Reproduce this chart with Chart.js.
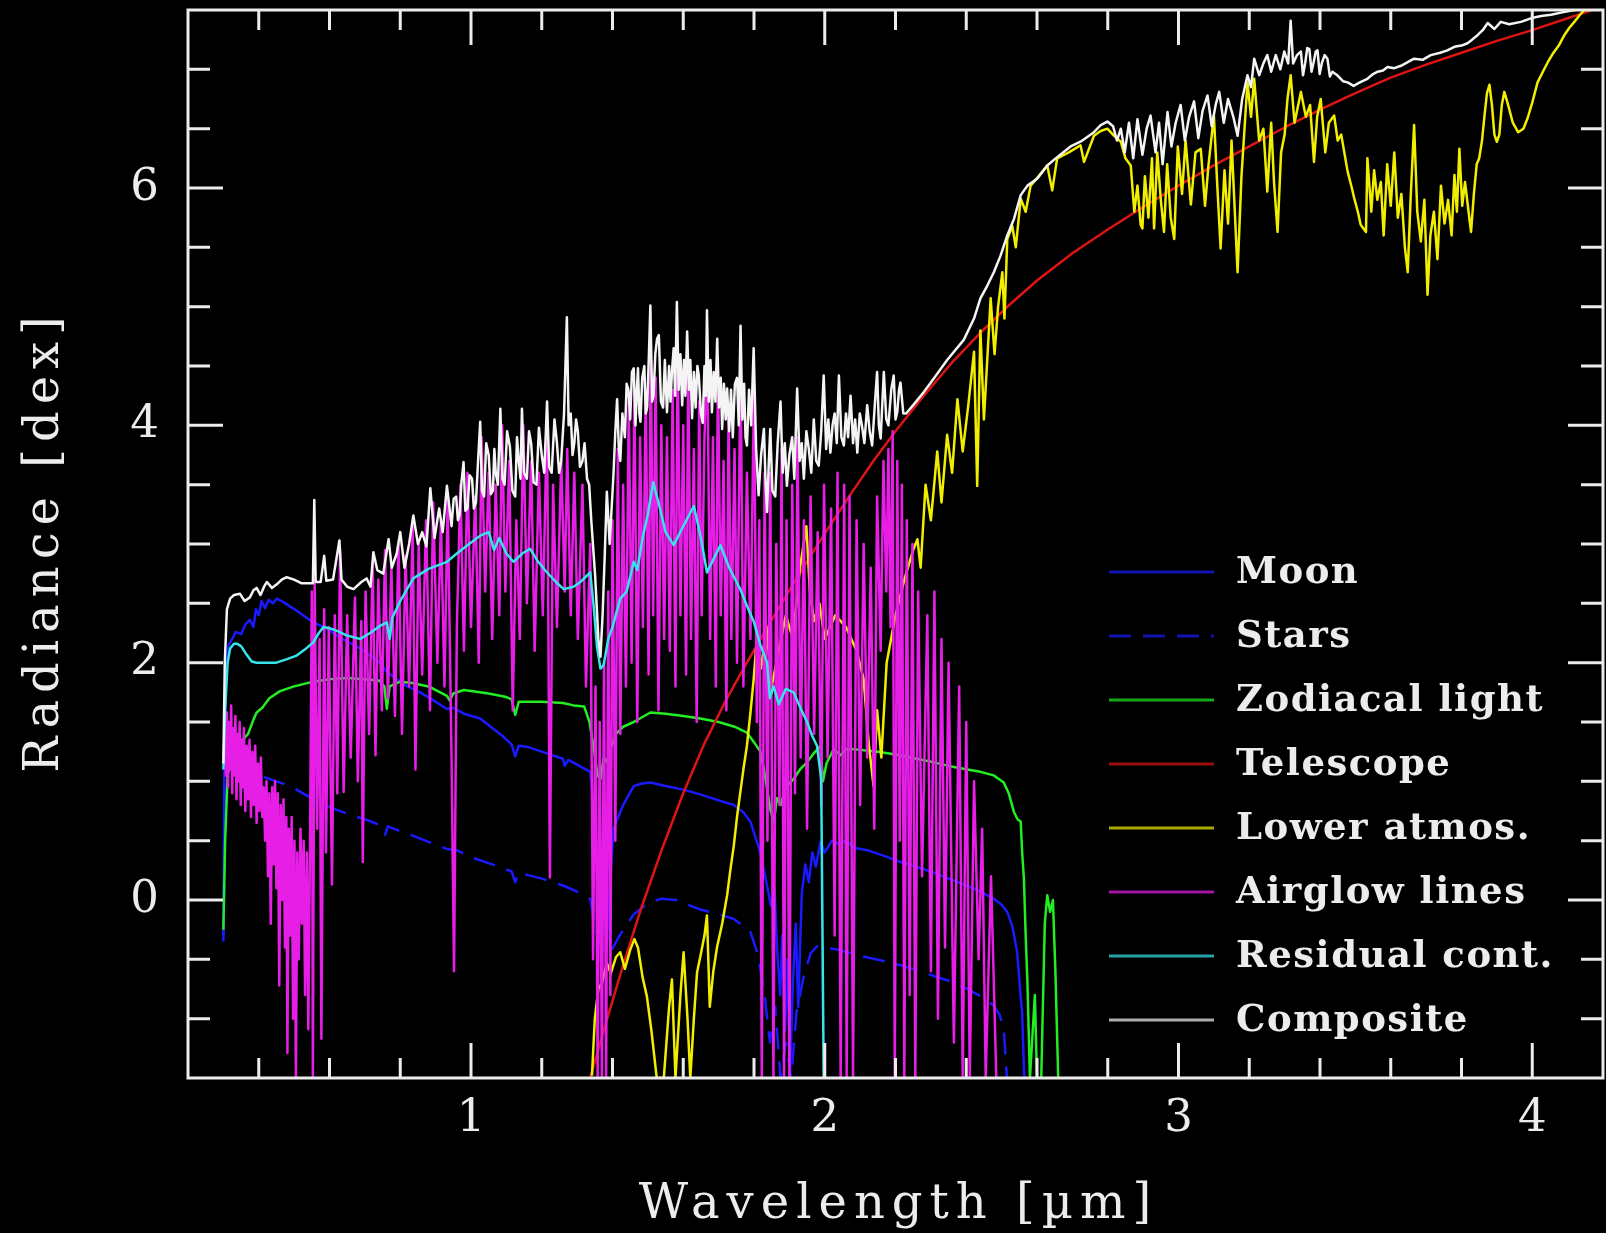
<!DOCTYPE html>
<html>
<head>
<meta charset="utf-8">
<title>Sky radiance components</title>
<script src="https://cdn.jsdelivr.net/npm/chart.js@4.4.1/dist/chart.umd.min.js"></script>
<style>
  html, body { margin: 0; padding: 0; background: #000; }
  canvas { display: block; }
</style>
</head>
<body>
<canvas id="sky" width="1606" height="1233"></canvas>
<script>
// wavelength [um], radiance [dex] pairs for each component
const moon = [
  [0.300,-0.30],[0.303,1.20],[0.308,1.95],[0.315,2.15],[0.325,2.20],[0.335,2.26],[0.350,2.24],[0.362,2.32],[0.375,2.36],[0.385,2.30],
  [0.392,2.45],[0.400,2.40],[0.408,2.52],[0.418,2.46],[0.428,2.53],[0.440,2.50],[0.451,2.54],[0.470,2.51],[0.490,2.47],[0.507,2.44],
  [0.530,2.39],[0.554,2.34],[0.590,2.29],[0.620,2.23],[0.655,2.17],[0.687,2.12],[0.715,2.06],[0.743,2.00],[0.760,1.93],[0.790,1.86],
  [0.820,1.80],[0.856,1.75],[0.895,1.68],[0.932,1.61],[0.950,1.62],[0.980,1.57],[1.026,1.53],[1.060,1.45],[1.090,1.38],[1.115,1.31],
  [1.125,1.21],[1.135,1.30],[1.160,1.29],[1.200,1.25],[1.230,1.22],[1.260,1.19],[1.265,1.13],[1.275,1.18],[1.300,1.14],[1.337,1.08],
  [1.348,0.75],[1.360,0.25],[1.372,-0.10],[1.384,-0.38],[1.392,0.10],[1.403,0.60],[1.430,0.80],[1.460,0.96],[1.480,0.98],[1.507,0.99],
  [1.550,0.96],[1.600,0.93],[1.648,0.89],[1.700,0.84],[1.743,0.80],[1.770,0.74],[1.790,0.66],[1.805,0.52],[1.818,0.40],[1.835,0.15],
  [1.848,-0.05],[1.858,0.10],[1.866,-0.45],[1.874,-0.80],[1.880,-0.30],[1.888,-1.10],[1.895,-0.50],[1.902,-1.45],[1.910,-0.70],[1.918,-0.20],
  [1.925,-0.90],[1.935,0.05],[1.945,0.30],[1.955,0.15],[1.965,0.40],[1.975,0.28],[1.988,0.49],[2.000,0.40],[2.020,0.50],[2.040,0.47],
  [2.060,0.50],[2.082,0.44],[2.120,0.42],[2.170,0.37],[2.214,0.32],[2.260,0.28],[2.308,0.23],[2.350,0.18],[2.403,0.12],[2.440,0.07],
  [2.478,0.01],[2.500,-0.04],[2.516,-0.10],[2.530,-0.22],[2.544,-0.44],[2.552,-0.75],[2.558,-0.95],[2.564,-1.50]
];

const stars = [
  [0.300,-0.35],[0.304,0.60],[0.310,0.98],[0.320,1.05],[0.340,1.07],[0.360,1.04],[0.394,1.08],[0.420,1.03],[0.450,1.00],[0.489,0.96],
  [0.530,0.89],[0.573,0.82],[0.620,0.76],[0.668,0.71],[0.710,0.67],[0.743,0.63],[0.757,0.55],[0.765,0.62],[0.800,0.58],[0.837,0.54],
  [0.880,0.49],[0.932,0.43],[0.960,0.42],[1.000,0.36],[1.060,0.30],[1.115,0.24],[1.125,0.15],[1.135,0.23],[1.200,0.18],[1.262,0.12],
  [1.300,0.07],[1.337,0.01],[1.350,-0.20],[1.362,-0.35],[1.380,-0.46],[1.394,-0.44],[1.420,-0.30],[1.460,-0.12],[1.500,-0.03],[1.535,0.01],
  [1.580,0.00],[1.648,-0.08],[1.700,-0.12],[1.743,-0.16],[1.770,-0.22],[1.790,-0.27],[1.810,-0.45],[1.830,-0.80],[1.845,-1.20],[1.860,-0.90],
  [1.875,-1.50],[1.890,-1.20],[1.905,-1.50],[1.920,-0.95],[1.940,-0.65],[1.960,-0.45],[1.978,-0.39],[2.000,-0.40],[2.040,-0.42],[2.100,-0.47],
  [2.160,-0.51],[2.214,-0.55],[2.260,-0.59],[2.308,-0.64],[2.360,-0.69],[2.403,-0.75],[2.440,-0.81],[2.478,-0.89],[2.495,-0.97],[2.506,-1.09],
  [2.515,-1.50]
];

const zodiacal = [
  [0.300,-0.25],[0.305,0.50],[0.312,1.05],[0.325,1.25],[0.345,1.32],[0.370,1.40],[0.385,1.52],[0.394,1.58],[0.410,1.62],[0.430,1.70],
  [0.460,1.76],[0.500,1.80],[0.554,1.84],[0.600,1.86],[0.650,1.87],[0.700,1.86],[0.740,1.85],[0.755,1.80],[0.762,1.61],[0.770,1.80],
  [0.800,1.84],[0.830,1.83],[0.880,1.80],[0.932,1.72],[0.940,1.68],[0.950,1.74],[0.980,1.77],[1.050,1.74],[1.100,1.71],[1.115,1.69],
  [1.125,1.56],[1.135,1.67],[1.200,1.67],[1.260,1.66],[1.290,1.64],[1.320,1.63],[1.335,1.50],[1.346,1.30],[1.358,1.05],[1.366,1.02],
  [1.375,1.20],[1.384,1.16],[1.394,1.27],[1.410,1.40],[1.430,1.46],[1.460,1.50],[1.507,1.58],[1.550,1.57],[1.600,1.55],[1.648,1.53],
  [1.700,1.50],[1.745,1.46],[1.780,1.41],[1.800,1.33],[1.818,1.25],[1.828,1.10],[1.837,0.94],[1.847,0.75],[1.856,0.66],[1.865,0.86],
  [1.875,0.80],[1.890,0.95],[1.912,1.02],[1.930,1.10],[1.950,1.16],[1.970,1.24],[1.988,1.30],[1.995,1.00],[2.005,1.15],[2.025,1.27],
  [2.045,1.22],[2.060,1.27],[2.082,1.27],[2.150,1.25],[2.214,1.22],[2.260,1.19],[2.308,1.16],[2.350,1.13],[2.403,1.10],[2.440,1.08],
  [2.478,1.05],[2.506,0.99],[2.520,0.90],[2.535,0.74],[2.545,0.68],[2.554,0.66],[2.558,0.40],[2.563,0.18],[2.568,-0.30],[2.573,-0.70],
  [2.580,-1.50],[2.588,-1.10],[2.594,-0.80],[2.600,-1.50],[2.612,-1.50],[2.622,-0.20],[2.629,0.04],[2.637,-0.10],[2.645,0.00],[2.652,-0.60],
  [2.660,-1.50]
];

const telescope = [
  [1.337,-1.50],[1.380,-1.05],[1.430,-0.55],[1.480,-0.08],[1.540,0.43],[1.600,0.90],[1.660,1.32],[1.720,1.68],[1.780,2.00],[1.840,2.31],
  [1.900,2.61],[1.960,2.90],[2.020,3.18],[2.080,3.45],[2.140,3.71],[2.200,3.95],[2.280,4.25],[2.360,4.53],[2.440,4.78],[2.520,5.01],
  [2.600,5.22],[2.700,5.45],[2.800,5.65],[2.900,5.84],[3.000,6.02],[3.100,6.19],[3.200,6.35],[3.300,6.51],[3.400,6.66],[3.500,6.80],
  [3.600,6.93],[3.700,7.04],[3.800,7.14],[3.900,7.24],[4.000,7.33],[4.100,7.43],[4.200,7.53]
];

const lowerAtmos = [
  [1.342,-1.48],[1.350,-1.00],[1.360,-0.75],[1.370,-0.70],[1.384,-0.53],[1.395,-0.62],[1.410,-0.48],[1.422,-0.44],[1.435,-0.58],[1.450,-0.42],
  [1.462,-0.33],[1.472,-0.40],[1.485,-0.65],[1.497,-0.81],[1.510,-1.10],[1.525,-1.50],[1.545,-1.50],[1.560,-0.90],[1.568,-0.67],[1.578,-1.50],
  [1.592,-0.80],[1.601,-0.44],[1.612,-1.00],[1.620,-1.50],[1.630,-1.00],[1.639,-0.61],[1.650,-0.45],[1.660,-0.30],[1.667,-0.13],[1.675,-0.90],
  [1.685,-0.60],[1.696,-0.39],[1.710,-0.20],[1.724,0.04],[1.733,0.25],[1.743,0.46],[1.752,0.70],[1.760,0.88],[1.770,1.10],[1.780,1.30],
  [1.790,1.58],[1.799,1.86],[1.808,2.20],[1.820,1.95],[1.835,2.30],[1.850,1.80],[1.870,2.10],[1.890,2.40],[1.910,2.20],[1.930,2.80],
  [1.948,3.15],[1.958,2.60],[1.970,2.35],[1.985,2.50],[2.000,2.20],[2.030,2.40],[2.060,2.30],[2.090,2.10],[2.110,1.86],[2.125,1.30],
  [2.138,0.96],[2.148,1.60],[2.160,1.20],[2.175,2.00],[2.200,2.40],[2.225,2.70],[2.250,2.95],[2.262,3.04],[2.271,2.80],[2.285,3.50],
  [2.300,3.20],[2.318,3.78],[2.330,3.35],[2.346,3.92],[2.360,3.60],[2.375,4.22],[2.390,3.78],[2.405,4.15],[2.422,4.62],[2.431,3.49],
  [2.440,4.80],[2.450,4.05],[2.469,5.07],[2.480,4.60],[2.490,5.00],[2.502,5.29],[2.508,4.90],[2.516,5.57],[2.530,5.68],[2.540,5.50],
  [2.554,5.91],[2.568,5.80],[2.582,6.02],[2.605,6.10],[2.629,6.19],[2.643,5.98],[2.657,6.25],[2.690,6.30],[2.723,6.36],[2.733,6.22],
  [2.761,6.44],[2.780,6.48],[2.799,6.50],[2.818,6.44],[2.837,6.39],[2.850,6.25],[2.865,6.19],[2.875,5.80],[2.884,6.02],[2.893,5.69],
  [2.898,5.66],[2.905,6.10],[2.915,5.75],[2.925,6.25],[2.931,5.66],[2.940,6.30],[2.950,5.90],[2.959,5.63],[2.968,6.20],[2.978,5.75],
  [2.988,5.57],[2.998,6.35],[3.010,5.95],[3.020,6.40],[3.035,5.86],[3.048,6.30],[3.063,6.33],[3.075,5.85],[3.085,6.20],[3.100,6.61],
  [3.110,6.00],[3.119,5.49],[3.130,6.15],[3.140,5.70],[3.150,6.40],[3.167,5.29],[3.178,6.10],[3.195,6.89],[3.205,6.60],[3.214,6.92],
  [3.228,6.40],[3.240,6.50],[3.251,5.97],[3.262,6.55],[3.270,6.05],[3.280,5.63],[3.290,6.30],[3.300,6.45],[3.308,6.75],[3.317,6.95],
  [3.328,6.55],[3.346,6.81],[3.360,6.60],[3.372,6.70],[3.383,6.22],[3.392,6.60],[3.402,6.75],[3.415,6.30],[3.425,6.55],[3.440,6.61],
  [3.450,6.40],[3.460,6.45],[3.478,6.14],[3.490,6.00],[3.497,5.91],[3.507,5.80],[3.515,5.69],[3.530,5.63],[3.534,6.25],[3.545,5.80],
  [3.553,6.15],[3.562,5.90],[3.572,6.05],[3.580,5.60],[3.590,6.20],[3.600,5.85],[3.610,6.30],[3.620,5.75],[3.630,5.95],[3.640,5.50],
  [3.648,5.29],[3.656,5.90],[3.666,6.53],[3.675,5.80],[3.685,5.55],[3.695,5.90],[3.704,5.10],[3.712,5.60],[3.722,5.80],[3.732,5.40],
  [3.742,6.02],[3.752,5.70],[3.762,5.90],[3.772,5.60],[3.780,6.11],[3.787,5.80],[3.794,6.33],[3.802,5.85],[3.810,6.05],[3.820,5.80],
  [3.827,5.63],[3.835,5.95],[3.843,6.20],[3.850,6.25],[3.858,6.40],[3.865,6.61],[3.872,6.80],[3.879,6.87],[3.886,6.70],[3.893,6.45],
  [3.900,6.39],[3.907,6.45],[3.914,6.70],[3.921,6.81],[3.930,6.72],[3.945,6.55],[3.960,6.47],[3.975,6.50],[3.987,6.59],[4.000,6.72],
  [4.015,6.89],[4.030,6.98],[4.044,7.06],[4.060,7.14],[4.075,7.20],[4.091,7.29],[4.105,7.35],[4.119,7.40],[4.135,7.46],[4.150,7.51],
  [4.170,7.53]
];

const airglow = [
  [0.300,1.20],[0.304,1.45],[0.307,1.05],[0.310,1.58],[0.313,0.95],[0.316,1.50],[0.319,1.10],[0.322,1.64],[0.325,0.90],[0.328,1.45],
  [0.331,1.05],[0.334,1.55],[0.337,0.85],[0.340,1.40],[0.343,1.00],[0.346,1.50],[0.349,0.80],[0.352,1.35],[0.355,0.95],[0.358,1.45],
  [0.362,0.75],[0.366,1.30],[0.370,0.85],[0.374,1.35],[0.378,0.70],[0.382,1.25],[0.386,0.80],[0.390,1.30],[0.394,0.65],[0.398,1.15],
  [0.402,0.75],[0.406,1.20],[0.410,0.70],[0.414,0.95],[0.418,0.50],[0.422,1.00],[0.426,0.20],[0.430,0.90],[0.434,-0.20],[0.438,0.95],
  [0.442,0.30],[0.446,1.00],[0.450,0.10],[0.454,0.90],[0.458,-0.72],[0.462,0.80],[0.466,0.00],[0.470,0.85],[0.474,-0.40],[0.478,0.70],
  [0.481,-1.29],[0.485,0.60],[0.489,-0.30],[0.493,0.70],[0.497,-1.00],[0.501,0.50],[0.505,-1.50],[0.509,0.40],[0.513,-0.50],[0.518,0.60],
  [0.522,-0.20],[0.527,0.50],[0.531,-0.80],[0.536,0.40],[0.540,-1.09],[0.545,0.50],[0.550,2.60],[0.553,-1.50],[0.558,2.70],[0.565,0.60],
  [0.572,2.20],[0.577,-1.17],[0.585,2.45],[0.590,0.40],[0.598,2.30],[0.607,0.13],[0.615,2.40],[0.622,0.90],[0.630,2.95],[0.640,0.91],
  [0.650,2.40],[0.660,1.20],[0.672,2.55],[0.680,1.00],[0.690,2.35],[0.694,0.32],[0.702,2.60],[0.712,1.40],[0.722,2.85],[0.730,1.22],
  [0.738,2.70],[0.748,1.60],[0.757,2.95],[0.765,1.70],[0.775,2.80],[0.785,1.55],[0.795,3.00],[0.805,1.40],[0.815,2.90],[0.825,1.80],
  [0.835,3.15],[0.843,1.10],[0.852,3.00],[0.862,1.90],[0.873,3.20],[0.884,1.60],[0.893,3.35],[0.905,2.00],[0.915,3.20],[0.925,1.80],
  [0.934,3.40],[0.945,1.20],[0.952,-0.60],[0.960,2.30],[0.970,3.50],[0.980,2.10],[0.990,3.60],[1.000,2.30],[1.012,3.40],[1.022,2.00],
  [1.030,3.90],[1.040,2.60],[1.050,3.60],[1.060,2.20],[1.070,3.50],[1.080,2.40],[1.088,4.00],[1.097,2.60],[1.108,3.70],[1.118,1.60],
  [1.128,3.20],[1.138,2.20],[1.148,4.00],[1.158,2.50],[1.170,3.70],[1.180,2.10],[1.192,3.60],[1.203,2.40],[1.215,4.10],[1.223,0.19],
  [1.232,3.50],[1.243,2.30],[1.255,3.70],[1.265,2.60],[1.272,3.80],[1.282,2.40],[1.292,3.60],[1.302,2.20],[1.315,3.50],[1.325,1.80],
  [1.337,3.00],[1.345,-0.50],[1.352,1.80],[1.358,-1.50],[1.364,1.50],[1.370,-1.50],[1.376,2.00],[1.382,-1.50],[1.388,2.60],[1.394,-0.80],
  [1.400,3.20],[1.408,0.50],[1.415,3.80],[1.422,1.40],[1.430,3.50],[1.438,1.80],[1.446,4.20],[1.454,2.00],[1.462,4.30],[1.470,1.50],
  [1.478,3.90],[1.486,2.30],[1.494,4.30],[1.502,1.90],[1.508,4.70],[1.515,2.40],[1.522,4.40],[1.530,1.60],[1.538,4.00],[1.546,2.20],
  [1.554,3.90],[1.562,2.10],[1.570,4.30],[1.578,1.80],[1.584,4.70],[1.592,2.40],[1.600,4.00],[1.608,1.90],[1.614,4.50],[1.622,2.20],
  [1.630,3.80],[1.638,1.50],[1.645,4.20],[1.652,2.40],[1.660,3.90],[1.668,4.60],[1.676,2.20],[1.684,3.90],[1.692,1.80],[1.698,4.50],
  [1.706,2.40],[1.714,3.70],[1.722,1.60],[1.728,4.10],[1.736,2.20],[1.745,3.80],[1.752,2.00],[1.762,4.50],[1.770,1.80],[1.780,3.60],
  [1.790,2.20],[1.800,4.30],[1.808,1.50],[1.815,3.20],[1.822,-1.50],[1.830,3.60],[1.838,0.50],[1.846,3.60],[1.855,-1.50],[1.863,3.00],
  [1.872,0.80],[1.878,3.80],[1.885,-1.50],[1.892,3.20],[1.900,-1.50],[1.908,3.50],[1.916,0.90],[1.923,3.90],[1.932,1.20],[1.941,3.20],
  [1.950,0.60],[1.960,3.40],[1.970,1.40],[1.980,3.10],[1.990,0.80],[1.998,3.50],[2.008,1.20],[2.018,3.30],[2.028,-0.30],[2.036,3.60],
  [2.045,-1.50],[2.055,3.50],[2.062,-1.50],[2.070,3.40],[2.080,-1.50],[2.090,3.20],[2.100,0.80],[2.110,3.00],[2.120,1.20],[2.130,2.80],
  [2.140,0.60],[2.148,3.40],[2.158,2.10],[2.166,3.70],[2.174,2.60],[2.180,3.80],[2.186,2.30],[2.192,3.95],[2.198,-1.50],[2.205,3.70],
  [2.212,0.50],[2.218,3.50],[2.225,-1.50],[2.232,3.20],[2.240,-0.80],[2.248,3.00],[2.256,-1.50],[2.264,2.60],[2.275,0.20],[2.290,2.40],
  [2.300,-0.60],[2.310,2.60],[2.320,-1.00],[2.330,2.20],[2.340,-0.40],[2.350,2.00],[2.365,-1.20],[2.380,1.80],[2.390,-1.50],[2.400,1.50],
  [2.410,-1.50],[2.422,1.00],[2.435,-0.50],[2.445,0.60],[2.455,-1.50],[2.470,0.20],[2.485,-1.50]
];

const residual = [
  [0.300,1.10],[0.305,1.60],[0.312,2.00],[0.319,2.12],[0.330,2.16],[0.338,2.16],[0.350,2.14],[0.365,2.07],[0.380,2.01],[0.394,2.00],
  [0.420,2.00],[0.450,2.00],[0.480,2.03],[0.507,2.06],[0.530,2.11],[0.554,2.17],[0.570,2.25],[0.583,2.30],[0.600,2.29],[0.620,2.27],
  [0.648,2.23],[0.687,2.20],[0.715,2.25],[0.743,2.31],[0.762,2.34],[0.770,2.20],[0.778,2.38],[0.800,2.52],[0.837,2.71],[0.880,2.79],
  [0.932,2.85],[0.960,2.92],[0.990,2.99],[1.026,3.07],[1.050,3.10],[1.065,2.95],[1.080,3.05],[1.100,2.92],[1.120,2.85],[1.145,2.92],
  [1.167,2.96],[1.190,2.85],[1.215,2.76],[1.240,2.68],[1.262,2.62],[1.290,2.64],[1.309,2.68],[1.337,2.76],[1.346,2.50],[1.356,2.14],
  [1.366,1.95],[1.375,1.98],[1.388,2.20],[1.400,2.30],[1.422,2.54],[1.440,2.60],[1.460,2.85],[1.470,2.78],[1.485,3.05],[1.500,3.25],
  [1.515,3.52],[1.530,3.35],[1.550,3.10],[1.573,2.99],[1.600,3.15],[1.630,3.32],[1.650,3.05],[1.667,2.76],[1.690,2.90],[1.705,2.99],
  [1.730,2.80],[1.761,2.62],[1.780,2.48],[1.800,2.34],[1.818,2.15],[1.837,2.00],[1.845,1.70],[1.855,1.80],[1.870,1.65],[1.890,1.78],
  [1.912,1.75],[1.931,1.62],[1.950,1.50],[1.965,1.38],[1.978,1.30],[1.990,1.02],[1.997,-1.50]
];

const composite = [
  [0.300,1.15],[0.304,2.00],[0.310,2.45],[0.319,2.54],[0.330,2.57],[0.347,2.58],[0.360,2.52],[0.375,2.55],[0.385,2.61],[0.394,2.63],
  [0.405,2.57],[0.415,2.64],[0.423,2.68],[0.437,2.63],[0.451,2.66],[0.465,2.70],[0.479,2.72],[0.500,2.70],[0.520,2.67],[0.540,2.67],
  [0.553,2.67],[0.557,3.37],[0.561,2.68],[0.575,2.68],[0.585,2.90],[0.591,2.69],[0.610,2.70],[0.628,3.03],[0.634,2.70],[0.650,2.64],
  [0.668,2.62],[0.690,2.68],[0.705,2.71],[0.716,2.64],[0.724,2.93],[0.735,2.78],[0.752,2.75],[0.767,3.04],[0.776,2.80],[0.790,2.92],
  [0.800,3.10],[0.812,2.80],[0.825,3.00],[0.837,3.24],[0.850,3.00],[0.862,3.10],[0.874,2.98],[0.885,3.47],[0.897,3.05],[0.910,3.30],
  [0.920,3.10],[0.932,3.49],[0.945,3.15],[0.951,3.38],[0.958,3.40],[0.963,3.20],[0.968,3.25],[0.973,3.52],[0.979,3.69],[0.984,3.28],
  [0.990,3.30],[0.996,3.58],[1.003,3.55],[1.008,3.30],[1.014,3.35],[1.020,3.70],[1.026,4.03],[1.031,3.45],[1.037,3.40],[1.043,3.85],
  [1.050,3.75],[1.056,3.42],[1.062,3.45],[1.066,3.80],[1.070,3.60],[1.076,3.50],[1.083,4.14],[1.089,3.55],[1.095,3.50],[1.102,3.95],
  [1.110,3.82],[1.117,3.45],[1.125,3.40],[1.130,3.90],[1.135,3.70],[1.140,3.55],[1.144,4.14],[1.150,3.60],[1.158,3.55],[1.164,3.95],
  [1.170,3.85],[1.177,3.52],[1.185,3.50],[1.192,3.98],[1.200,3.75],[1.207,3.60],[1.215,4.20],[1.221,3.65],[1.228,3.60],[1.236,4.05],
  [1.243,3.85],[1.249,3.60],[1.255,3.70],[1.263,4.10],[1.271,4.91],[1.276,4.00],[1.282,4.10],[1.287,3.75],[1.292,3.85],[1.297,4.05],
  [1.302,3.95],[1.308,3.65],[1.315,3.70],[1.321,3.85],[1.328,3.55],[1.334,3.50],[1.340,3.20],[1.351,2.73],[1.360,2.20],[1.366,2.05],
  [1.372,2.40],[1.378,2.90],[1.384,3.44],[1.392,3.00],[1.403,3.60],[1.408,3.95],[1.413,4.22],[1.418,3.80],[1.422,3.70],[1.428,4.10],
  [1.435,3.90],[1.440,4.35],[1.445,4.30],[1.450,4.05],[1.455,4.45],[1.460,4.48],[1.465,4.00],[1.469,4.30],[1.472,4.48],[1.476,4.10],
  [1.479,4.03],[1.484,4.40],[1.490,4.50],[1.494,4.10],[1.498,4.15],[1.503,4.60],[1.507,5.01],[1.512,4.20],[1.516,4.25],[1.521,4.60],
  [1.526,4.73],[1.531,4.76],[1.537,4.20],[1.543,4.15],[1.548,4.55],[1.554,4.11],[1.560,4.50],[1.564,4.20],[1.568,4.45],[1.573,4.65],
  [1.577,4.25],[1.582,5.04],[1.587,4.30],[1.592,4.60],[1.597,4.17],[1.602,4.55],[1.606,4.25],[1.611,4.79],[1.616,4.30],[1.620,4.55],
  [1.625,4.06],[1.630,4.45],[1.635,4.15],[1.640,4.50],[1.644,4.42],[1.650,4.10],[1.655,4.02],[1.660,4.50],[1.664,4.25],[1.667,4.97],
  [1.672,4.20],[1.677,4.55],[1.681,4.11],[1.686,4.45],[1.691,4.20],[1.696,4.73],[1.701,4.15],[1.706,4.40],[1.710,3.97],[1.715,4.35],
  [1.720,4.05],[1.724,4.31],[1.730,3.95],[1.735,4.30],[1.740,3.90],[1.746,4.35],[1.752,4.40],[1.757,4.00],[1.762,4.84],[1.767,4.05],
  [1.772,4.35],[1.776,3.90],[1.780,3.83],[1.786,4.30],[1.792,4.00],[1.799,4.65],[1.806,3.80],[1.813,3.41],[1.820,3.75],[1.828,3.97],
  [1.833,3.50],[1.837,3.27],[1.842,3.70],[1.846,3.97],[1.852,3.45],[1.860,3.40],[1.867,3.85],[1.875,4.20],[1.881,3.60],[1.887,3.85],
  [1.893,3.49],[1.900,3.75],[1.908,3.90],[1.914,3.55],[1.922,4.31],[1.929,3.70],[1.935,3.85],[1.941,3.55],[1.948,3.95],[1.955,3.80],
  [1.962,3.60],[1.969,4.05],[1.976,3.70],[1.983,3.66],[1.990,3.95],[1.997,4.42],[2.004,3.80],[2.010,4.05],[2.016,3.77],[2.022,4.00],
  [2.028,4.10],[2.034,3.85],[2.040,4.42],[2.047,3.90],[2.054,3.83],[2.060,4.10],[2.066,3.90],[2.073,4.25],[2.080,3.85],[2.086,4.05],
  [2.092,3.77],[2.099,4.10],[2.105,4.00],[2.112,3.85],[2.120,4.17],[2.127,3.95],[2.134,3.83],[2.141,4.15],[2.148,4.45],[2.153,4.00],
  [2.158,3.89],[2.163,4.20],[2.167,4.45],[2.174,4.05],[2.180,4.00],[2.188,4.30],[2.195,4.42],[2.200,4.05],[2.205,4.11],[2.210,4.30],
  [2.214,4.36],[2.222,4.10],[2.230,4.10],[2.250,4.17],[2.280,4.28],[2.300,4.36],[2.346,4.55],[2.393,4.72],[2.422,4.90],[2.440,5.07],
  [2.460,5.18],[2.478,5.29],[2.497,5.43],[2.516,5.60],[2.535,5.74],[2.554,5.94],[2.573,6.02],[2.601,6.08],[2.629,6.19],[2.657,6.26],
  [2.695,6.35],[2.723,6.39],[2.761,6.47],[2.780,6.53],[2.799,6.56],[2.815,6.52],[2.826,6.40],[2.837,6.50],[2.848,6.30],[2.860,6.55],
  [2.872,6.25],[2.884,6.58],[2.898,6.28],[2.910,6.50],[2.921,6.61],[2.935,6.30],[2.945,6.55],[2.955,6.20],[2.969,6.64],[2.980,6.35],
  [2.992,6.55],[3.006,6.70],[3.018,6.40],[3.030,6.60],[3.044,6.73],[3.056,6.42],[3.068,6.65],[3.082,6.78],[3.094,6.52],[3.105,6.70],
  [3.115,6.81],[3.128,6.55],[3.140,6.75],[3.155,6.60],[3.167,6.44],[3.180,6.75],[3.195,6.95],[3.205,6.85],[3.214,7.09],[3.228,6.95],
  [3.240,7.05],[3.251,7.12],[3.262,6.98],[3.275,7.12],[3.288,7.00],[3.299,7.15],[3.310,7.05],[3.317,7.41],[3.324,7.05],[3.335,7.12],
  [3.346,7.15],[3.352,6.95],[3.358,7.05],[3.364,7.18],[3.370,7.17],[3.376,6.98],[3.382,7.06],[3.388,7.15],[3.393,7.16],[3.399,6.96],
  [3.405,7.05],[3.413,7.12],[3.421,7.09],[3.428,6.94],[3.435,6.98],[3.449,6.95],[3.465,6.90],[3.478,6.89],[3.495,6.86],[3.506,6.88],
  [3.520,6.90],[3.534,6.92],[3.550,6.96],[3.563,6.98],[3.578,6.99],[3.591,7.02],[3.610,7.01],[3.629,7.03],[3.648,7.06],[3.666,7.09],
  [3.690,7.08],[3.713,7.12],[3.740,7.14],[3.760,7.16],[3.780,7.19],[3.800,7.20],[3.817,7.22],[3.830,7.25],[3.846,7.29],[3.860,7.33],
  [3.874,7.39],[3.893,7.34],[3.911,7.40],[3.935,7.38],[3.968,7.40],[3.996,7.43],[4.025,7.45],[4.053,7.46],[4.085,7.48],[4.119,7.50],
  [4.150,7.51],[4.200,7.53]
];

const xMajorTicks = [1, 2, 3, 4];
const yMajorTicks = [0, 2, 4, 6];

const inkColor = '#ececec';
const serif = "'DejaVu Serif', serif";

function series(label, points, color, order, extra) {
  return Object.assign({
    label: label,
    data: points,
    borderColor: color,
    borderWidth: 2.5,
    borderJoinStyle: 'round',
    pointRadius: 0,
    tension: 0,
    order: order
  }, extra || {});
}

// black page, boxed frame with inward ticks on all four sides
const skyFrame = {
  id: 'skyFrame',
  beforeDraw(chart) {
    const ctx = chart.ctx;
    ctx.save();
    ctx.fillStyle = '#000';
    ctx.fillRect(0, 0, chart.width, chart.height);
    ctx.restore();
  },
  afterDatasetsDraw(chart) {
    const { ctx, chartArea: a } = chart;
    const xs = chart.scales.x, ys = chart.scales.y;
    ctx.save();
    ctx.strokeStyle = inkColor;
    ctx.lineWidth = 3;
    ctx.strokeRect(a.left, a.top, a.right - a.left, a.bottom - a.top);
    ctx.beginPath();
    for (let i = 4; i < 42; i += 2) {
      const px = xs.getPixelForValue(i / 10);
      const len = i % 10 === 0 ? 35 : 20;
      ctx.moveTo(px, a.bottom); ctx.lineTo(px, a.bottom - len);
      ctx.moveTo(px, a.top); ctx.lineTo(px, a.top + len);
    }
    for (let i = -2; i < 15; i++) {
      const py = ys.getPixelForValue(i / 2);
      const len = i % 4 === 0 ? 35 : 22;
      ctx.moveTo(a.left, py); ctx.lineTo(a.left + len, py);
      ctx.moveTo(a.right, py); ctx.lineTo(a.right - len, py);
    }
    ctx.stroke();
    ctx.restore();
  }
};

// spaced-out axis titles
const skyTitles = {
  id: 'skyTitles',
  afterDraw(chart) {
    const { ctx, chartArea: a } = chart;
    ctx.save();
    ctx.fillStyle = inkColor;
    ctx.font = '48px ' + serif;
    ctx.letterSpacing = '7px';
    ctx.textAlign = 'center';
    ctx.textBaseline = 'alphabetic';
    ctx.fillText('Wavelength [\u00b5m]', (a.left + a.right) / 2 + 3, 1218);
    ctx.translate(58, (a.top + a.bottom) / 2);
    ctx.rotate(-Math.PI / 2);
    ctx.fillText('Radiance [dex]', 3, 0);
    ctx.restore();
  }
};

// legend block in the lower right of the plot
const skyLegend = {
  id: 'skyLegend',
  afterDraw(chart) {
    const ctx = chart.ctx;
    ctx.save();
    ctx.font = 'bold 37px ' + serif;
    ctx.letterSpacing = '1.5px';
    ctx.textBaseline = 'middle';
    chart.data.datasets.forEach((ds, i) => {
      const y = 572 + i * 64;
      ctx.globalAlpha = 0.7;
      ctx.strokeStyle = ds.borderColor;
      ctx.lineWidth = 3;
      ctx.setLineDash(ds.borderDash || []);
      ctx.beginPath();
      ctx.moveTo(1109, y);
      ctx.lineTo(1214, y);
      ctx.stroke();
      ctx.globalAlpha = 1;
      ctx.setLineDash([]);
      ctx.fillStyle = inkColor;
      ctx.fillText(ds.label, 1236, y + 1);
    });
    ctx.restore();
  }
};

new Chart(document.getElementById('sky'), {
  type: 'line',
  data: {
    datasets: [
      series('Moon', moon, '#1a1aff', 8),
      series('Stars', stars, '#1a1aff', 7, { borderDash: [22, 12] }),
      series('Zodiacal light', zodiacal, '#22ee22', 6),
      series('Telescope', telescope, '#dd1414', 5),
      series('Lower atmos.', lowerAtmos, '#f2ee00', 4.5),
      series('Airglow lines', airglow, '#e61ee6', 4),
      series('Residual cont.', residual, '#38e4ec', 2),
      series('Composite', composite, '#f4f4f4', 1)
    ]
  },
  options: {
    responsive: false,
    animation: false,
    events: [],
    layout: { padding: { top: 10, right: 3, left: 0, bottom: 0 } },
    plugins: {
      legend: { display: false },
      tooltip: { enabled: false }
    },
    scales: {
      x: {
        type: 'linear',
        min: 0.2,
        max: 4.2,
        grid: { display: false, drawTicks: false },
        border: { display: false },
        ticks: { color: inkColor, font: { family: serif, size: 45 }, padding: 14, maxRotation: 0, autoSkip: false },
        afterBuildTicks(scale) { scale.ticks = xMajorTicks.map(value => ({ value })); },
        afterFit(scale) {
          scale.height = 155;
          scale.paddingLeft = 0; scale.paddingRight = 0;
        }
      },
      y: {
        type: 'linear',
        min: -1.5,
        max: 7.5,
        grid: { display: false, drawTicks: false },
        border: { display: false },
        ticks: { color: inkColor, font: { family: serif, size: 45 }, padding: 29, autoSkip: false },
        afterBuildTicks(scale) { scale.ticks = yMajorTicks.map(value => ({ value })); },
        afterFit(scale) {
          scale.width = 188;
          scale.paddingTop = 0; scale.paddingBottom = 0;
        }
      }
    }
  },
  plugins: [skyFrame, skyTitles, skyLegend]
});
</script>
</body>
</html>
